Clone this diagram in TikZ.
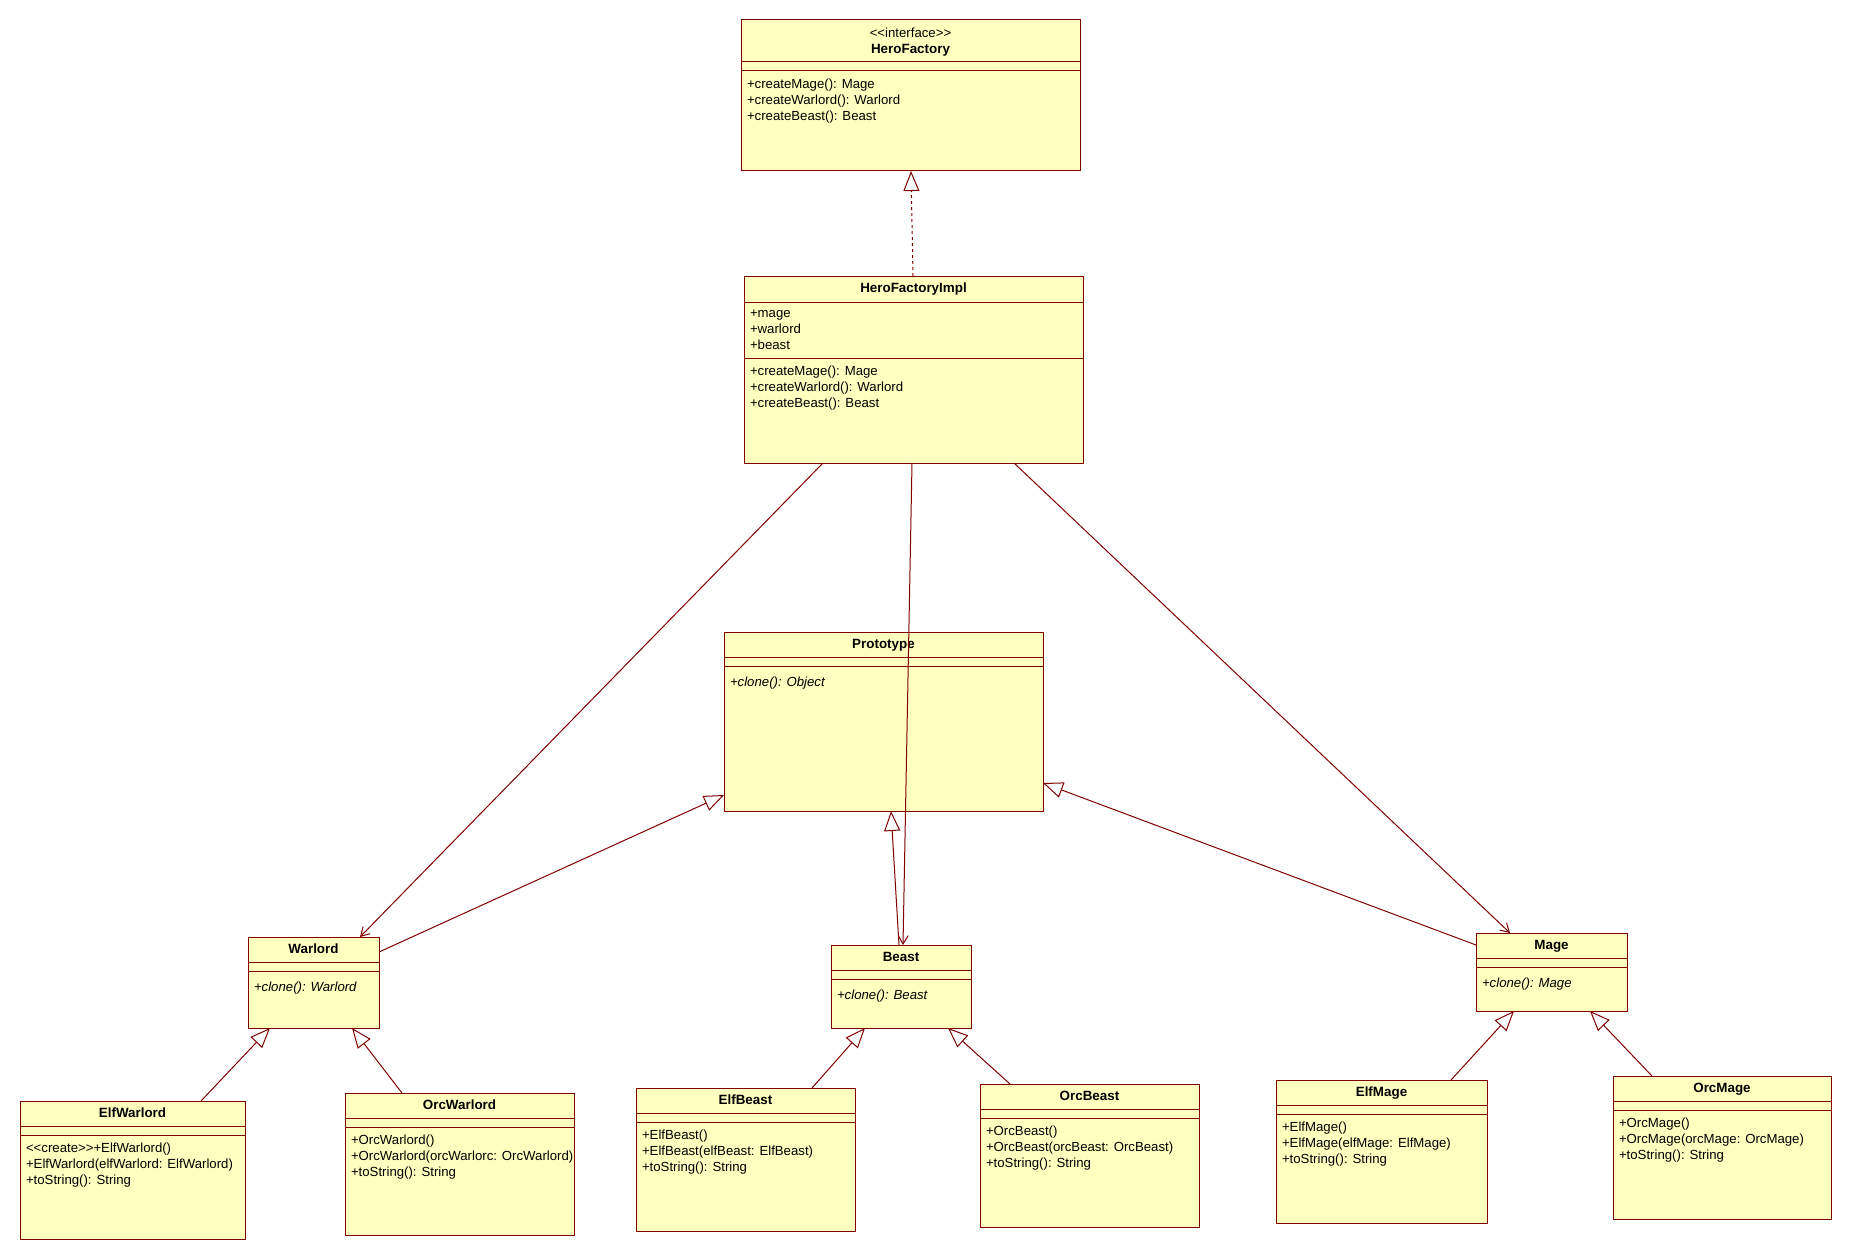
\documentclass[tikz,border=0pt]{standalone}
\usepackage{fontspec}
\setmainfont{Liberation Sans}
\usetikzlibrary{arrows.meta}
\definecolor{umlline}{RGB}{128,0,0}
\definecolor{umlfill}{RGB}{255,255,192}
\newcommand{\stl}{<\kern0pt<}
\newcommand{\stg}{>\kern0pt>}
\begin{document}
\begin{tikzpicture}[x=1pt, y=-1pt, line width=1pt,
  every node/.style = {inner sep=0pt, outer sep=0pt},
  cls/.style 2 args = {draw=umlline, fill=umlfill, anchor=north west,
    minimum width=#1, minimum height=#2},
  cname/.style = {anchor=base, font=\bfseries\fontsize{13.4}{16}\selectfont},
  members/.style = {anchor=north west, align=left, yshift=-4pt,
    font=\fontsize{13.2}{16}\selectfont,
    execute at begin node={\rule{0pt}{12pt}}},
  compart/.style = {draw=umlline},
  gen/.style = {draw=umlline, -{Triangle[open, length=20pt, width=16pt]}},
  real/.style = {gen, dash pattern=on 3pt off 3pt},
  assoc/.style = {draw=umlline, -{Straight Barb[length=8.5pt, width=10pt]}}]
\useasboundingbox (0,0) rectangle (1852,1260);

% interface
\node[cls={339}{151}] (factory) at (741,20) {};
\node[anchor=base, font=\fontsize{13.2}{16}\selectfont] (factory-stereo) at ([yshift=-17.5]factory.north) {\stl interface\stg};
\node[cname] (factory-name) at ([yshift=-33.5]factory.north) {HeroFactory};
\draw[compart] ([yshift=-42]factory.north west) -- ([yshift=-42]factory.north east)
  ([yshift=-51]factory.north west) -- ([yshift=-51]factory.north east);
\node[members] (factory-ops) at ([xshift=6, yshift=-55]factory.north west)
  {+createMage(): Mage\\+createWarlord(): Warlord\\+createBeast(): Beast};

% implementation
\node[cls={339}{187}] (impl) at (744,276) {};
\node[cname] (impl-name) at ([yshift=-16.5]impl.north) {HeroFactoryImpl};
\draw[compart] ([yshift=-26]impl.north west) -- ([yshift=-26]impl.north east)
  ([yshift=-82]impl.north west) -- ([yshift=-82]impl.north east);
\node[members] (impl-attrs) at ([xshift=6, yshift=-30]impl.north west)
  {+mage\\+warlord\\+beast};
\node[members] (impl-ops) at ([xshift=6, yshift=-86]impl.north west)
  {+createMage(): Mage\\+createWarlord(): Warlord\\+createBeast(): Beast};

% prototype
\node[cls={319}{179}] (proto) at (724,632) {};
\node[cname] (proto-name) at ([yshift=-16.5]proto.north) {Prototype};
\draw[compart] ([yshift=-25]proto.north west) -- ([yshift=-25]proto.north east)
  ([yshift=-34]proto.north west) -- ([yshift=-34]proto.north east);
\node[members] (proto-ops) at ([xshift=6, yshift=-38]proto.north west)
  {\itshape +clone(): Object};

% abstract heroes
\node[cls={131}{91}] (warlord) at (248,937) {};
\node[cname] (warlord-name) at ([yshift=-16.5]warlord.north) {Warlord};
\draw[compart] ([yshift=-25]warlord.north west) -- ([yshift=-25]warlord.north east)
  ([yshift=-34]warlord.north west) -- ([yshift=-34]warlord.north east);
\node[members] (warlord-ops) at ([xshift=6, yshift=-38]warlord.north west)
  {\itshape +clone(): Warlord};

\node[cls={140}{83}] (beast) at (831,945) {};
\node[cname] (beast-name) at ([yshift=-16.5]beast.north) {Beast};
\draw[compart] ([yshift=-25]beast.north west) -- ([yshift=-25]beast.north east)
  ([yshift=-34]beast.north west) -- ([yshift=-34]beast.north east);
\node[members] (beast-ops) at ([xshift=6, yshift=-38]beast.north west)
  {\itshape +clone(): Beast};

\node[cls={151}{78}] (mage) at (1476,933) {};
\node[cname] (mage-name) at ([yshift=-16.5]mage.north) {Mage};
\draw[compart] ([yshift=-25]mage.north west) -- ([yshift=-25]mage.north east)
  ([yshift=-34]mage.north west) -- ([yshift=-34]mage.north east);
\node[members] (mage-ops) at ([xshift=6, yshift=-38]mage.north west)
  {\itshape +clone(): Mage};

% concrete heroes
\node[cls={225}{138}] (elfwarlord) at (20,1101) {};
\node[cname] (elfwarlord-name) at ([yshift=-16.5]elfwarlord.north) {ElfWarlord};
\draw[compart] ([yshift=-25]elfwarlord.north west) -- ([yshift=-25]elfwarlord.north east)
  ([yshift=-34]elfwarlord.north west) -- ([yshift=-34]elfwarlord.north east);
\node[members] (elfwarlord-ops) at ([xshift=6, yshift=-38]elfwarlord.north west)
  {\stl create\stg+ElfWarlord()\\+ElfWarlord(elfWarlord: ElfWarlord)\\+toString(): String};

\node[cls={229}{142}] (orcwarlord) at (345,1093) {};
\node[cname] (orcwarlord-name) at ([yshift=-16.5]orcwarlord.north) {OrcWarlord};
\draw[compart] ([yshift=-25]orcwarlord.north west) -- ([yshift=-25]orcwarlord.north east)
  ([yshift=-34]orcwarlord.north west) -- ([yshift=-34]orcwarlord.north east);
\node[members] (orcwarlord-ops) at ([xshift=6, yshift=-38]orcwarlord.north west)
  {+OrcWarlord()\\+OrcWarlord(orcWarlorc: OrcWarlord)\\+toString(): String};

\node[cls={219}{143}] (elfbeast) at (636,1088) {};
\node[cname] (elfbeast-name) at ([yshift=-16.5]elfbeast.north) {ElfBeast};
\draw[compart] ([yshift=-25]elfbeast.north west) -- ([yshift=-25]elfbeast.north east)
  ([yshift=-34]elfbeast.north west) -- ([yshift=-34]elfbeast.north east);
\node[members] (elfbeast-ops) at ([xshift=6, yshift=-38]elfbeast.north west)
  {+ElfBeast()\\+ElfBeast(elfBeast: ElfBeast)\\+toString(): String};

\node[cls={219}{143}] (orcbeast) at (980,1084) {};
\node[cname] (orcbeast-name) at ([yshift=-16.5]orcbeast.north) {OrcBeast};
\draw[compart] ([yshift=-25]orcbeast.north west) -- ([yshift=-25]orcbeast.north east)
  ([yshift=-34]orcbeast.north west) -- ([yshift=-34]orcbeast.north east);
\node[members] (orcbeast-ops) at ([xshift=6, yshift=-38]orcbeast.north west)
  {+OrcBeast()\\+OrcBeast(orcBeast: OrcBeast)\\+toString(): String};

\node[cls={211}{143}] (elfmage) at (1276,1080) {};
\node[cname] (elfmage-name) at ([yshift=-16.5]elfmage.north) {ElfMage};
\draw[compart] ([yshift=-25]elfmage.north west) -- ([yshift=-25]elfmage.north east)
  ([yshift=-34]elfmage.north west) -- ([yshift=-34]elfmage.north east);
\node[members] (elfmage-ops) at ([xshift=6, yshift=-38]elfmage.north west)
  {+ElfMage()\\+ElfMage(elfMage: ElfMage)\\+toString(): String};

\node[cls={218}{143}] (orcmage) at (1613,1076) {};
\node[cname] (orcmage-name) at ([yshift=-16.5]orcmage.north) {OrcMage};
\draw[compart] ([yshift=-25]orcmage.north west) -- ([yshift=-25]orcmage.north east)
  ([yshift=-34]orcmage.north west) -- ([yshift=-34]orcmage.north east);
\node[members] (orcmage-ops) at ([xshift=6, yshift=-38]orcmage.north west)
  {+OrcMage()\\+OrcMage(orcMage: OrcMage)\\+toString(): String};

% connectors
\draw[real] ([xshift=169]impl.north west) -- ([xshift=170]factory.south west);
\draw[assoc] ([xshift=79]impl.south west) -- ([xshift=112]warlord.north west);
\draw[assoc] ([xshift=168]impl.south west) -- ([xshift=72]beast.north west);
\draw[assoc] ([xshift=270]impl.south west) -- ([xshift=34]mage.north west);
\draw[gen] ([yshift=-15]warlord.north east) -- ([yshift=16]proto.south west);
\draw[gen] ([xshift=68]beast.north west) -- ([xshift=167]proto.south west);
\draw[gen] ([yshift=-12]mage.north west) -- ([yshift=28]proto.south east);
\draw[gen] ([xshift=181]elfwarlord.north west) -- ([xshift=22]warlord.south west);
\draw[gen] ([xshift=57]orcwarlord.north west) -- ([xshift=104]warlord.south west);
\draw[gen] ([xshift=176]elfbeast.north west) -- ([xshift=34]beast.south west);
\draw[gen] ([xshift=30]orcbeast.north west) -- ([xshift=117]beast.south west);
\draw[gen] ([xshift=175]elfmage.north west) -- ([xshift=38]mage.south west);
\draw[gen] ([xshift=39]orcmage.north west) -- ([xshift=114]mage.south west);
\end{tikzpicture}
\end{document}
